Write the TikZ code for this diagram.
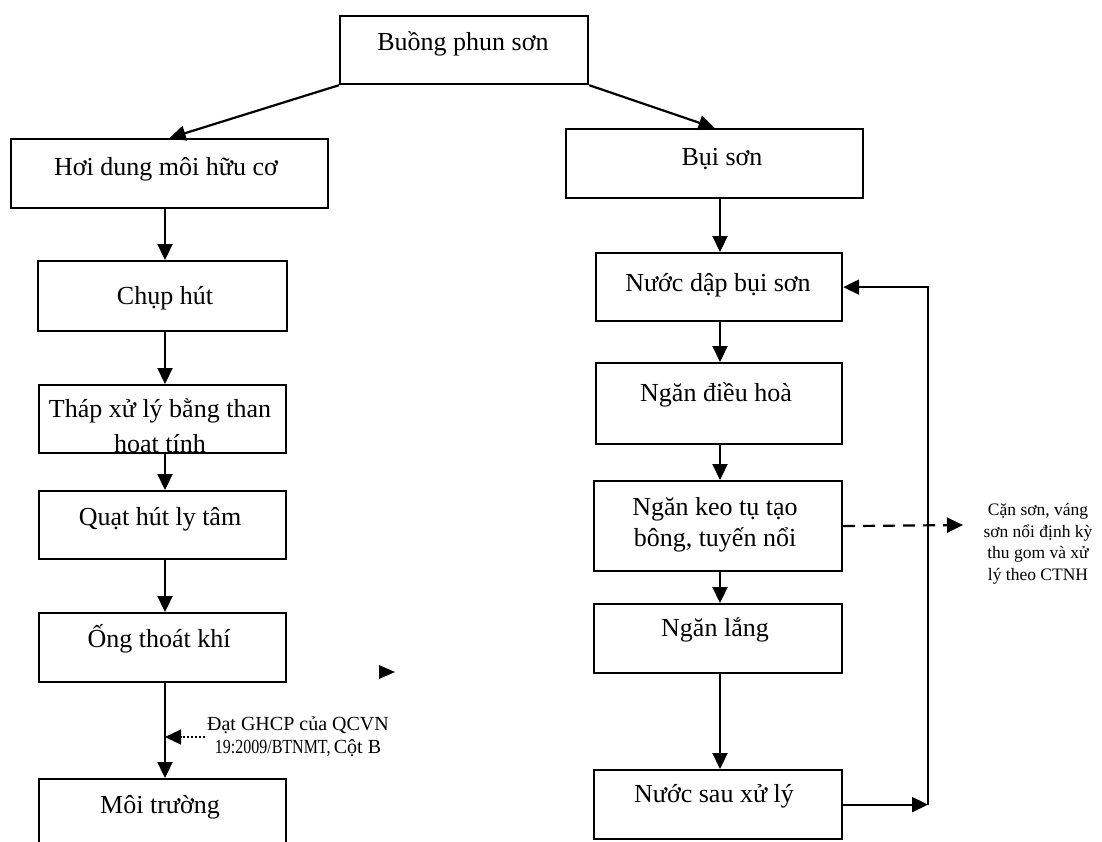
\documentclass[tikz,border=0pt]{standalone}
\usepackage{fontspec}
\setmainfont{Liberation Serif}
\usetikzlibrary{arrows.meta}
\begin{document}
\begin{tikzpicture}[x=1pt,y=-1pt,
  box/.style={draw, line width=2.2pt, inner sep=0pt, anchor=north west},
  lbl/.style={font=\fontsize{26}{30}\selectfont, anchor=base, inner sep=0pt, align=center},
  note/.style={font=\fontsize{17.5}{21.5}\selectfont, inner sep=0pt, align=center},
  tip/.style={-{Triangle[length=16pt,width=15pt]}},
  flow/.style={line width=2.2pt, tip},
  waste/.style={line width=2.2pt, dash pattern=on 12pt off 8pt, tip},
  hint/.style={line width=1.2pt, dash pattern=on 1.5pt off 2.5pt, tip}
]
\clip (0,0) rectangle (1102,841);

% process boxes
\node[box, minimum width=248pt, minimum height=68pt] (top)     at (339,15)  {};
\node[box, minimum width=317pt, minimum height=69pt] (hoi)     at (10,138)  {};
\node[box, minimum width=249pt, minimum height=70pt] (chup)    at (37,260)  {};
\begin{scope}
  \clip (38,384) rectangle (285,451);
  \node[lbl] at (160,417) {Tháp xử lý bằng than};
  \node[lbl] at (160,452) {hoạt tính};
\end{scope}
\node[box, minimum width=247pt, minimum height=68pt] (thap)    at (38,384)  {};
\node[box, minimum width=247pt, minimum height=68pt] (quat)    at (38,490)  {};
\node[box, minimum width=247pt, minimum height=69pt] (ong)     at (38,612)  {};
\node[box, minimum width=247pt, minimum height=90pt] (moi)     at (38,778)  {};

\node[box, minimum width=297pt, minimum height=69pt] (bui)     at (565,128) {};
\node[box, minimum width=246pt, minimum height=68pt] (nuocdap) at (595,252) {};
\node[box, minimum width=246pt, minimum height=81pt] (dieuhoa) at (595,362) {};
\node[box, minimum width=248pt, minimum height=90pt] (keo)     at (593,480) {};
\node[box, minimum width=248pt, minimum height=69pt] (lang)    at (593,603) {};
\node[box, minimum width=248pt, minimum height=69pt] (nuocsau) at (593,769) {};

% box texts
\node[lbl] at (463,50)  {Buồng phun sơn};
\node[lbl] at (166,175) {Hơi dung môi hữu cơ};
\node[lbl] at (165,304) {Chụp hút};
\node[lbl] at (160,525) {Quạt hút ly tâm};
\node[lbl] at (159,647) {Ống thoát khí};
\node[lbl] at (160,813) {Môi trường};
\node[lbl] at (722,165) {Bụi sơn};
\node[lbl] at (718,291) {Nước dập bụi sơn};
\node[lbl] at (716,401) {Ngăn điều hoà};
\node[lbl] at (715,515) {Ngăn keo tụ tạo};
\node[lbl] at (715,546) {bông, tuyến nổi};
\node[lbl] at (715,636) {Ngăn lắng};
\node[lbl] at (714,802) {Nước sau xử lý};

% side notes
\node[note, font=\fontsize{20}{23}\selectfont] (gh) at (298,737)
  {Đạt GHCP của QCVN\\\scalebox{0.8}[1]{19:2009/BTNMT,}\,Cột B};
\node[note] (ctnh) at (1038,544)
  {Cặn sơn, váng\\sơn nổi định kỳ\\thu gom và xử\\lý theo CTNH};

% column guides
\coordinate (lx) at (165,0);
\coordinate (rx) at (720,0);
\coordinate (loopx) at (928,0);
\coordinate (wasteend) at (963,525);

% connectors
\draw[flow] (top.south west) -- (hoi.north);
\draw[flow] (top.south east) -- (bui.north);

\draw[flow] (hoi.south -| lx)  -- (chup.north -| lx);
\draw[flow] (chup.south -| lx) -- (thap.north -| lx);
\draw[flow] (thap.south -| lx) -- (quat.north -| lx);
\draw[flow] (quat.south -| lx) -- (ong.north -| lx);
\draw[flow] (ong.south -| lx)  -- (moi.north -| lx);
\draw[hint] (gh.west) ++(-2,0) -- (gh.west -| lx);

\draw[flow] (bui.south -| rx)     -- (nuocdap.north -| rx);
\draw[flow] (nuocdap.south -| rx) -- (dieuhoa.north -| rx);
\draw[flow] (dieuhoa.south -| rx) -- (keo.north -| rx);
\draw[flow] (keo.south -| rx)     -- (lang.north -| rx);
\draw[flow] (lang.south -| rx)    -- (nuocsau.north -| rx);

\draw[waste] (keo.east) -- (wasteend);

\draw[flow] (nuocsau.east) -- (nuocsau.east -| loopx);
\draw[flow] (nuocsau.east -| loopx) |- (nuocdap.east);

% loose arrow head
\coordinate (stray) at (379,672);
\fill (stray) ++(0,-7) -- ++(16,7) -- ++(-16,7) -- cycle;
\end{tikzpicture}
\end{document}
